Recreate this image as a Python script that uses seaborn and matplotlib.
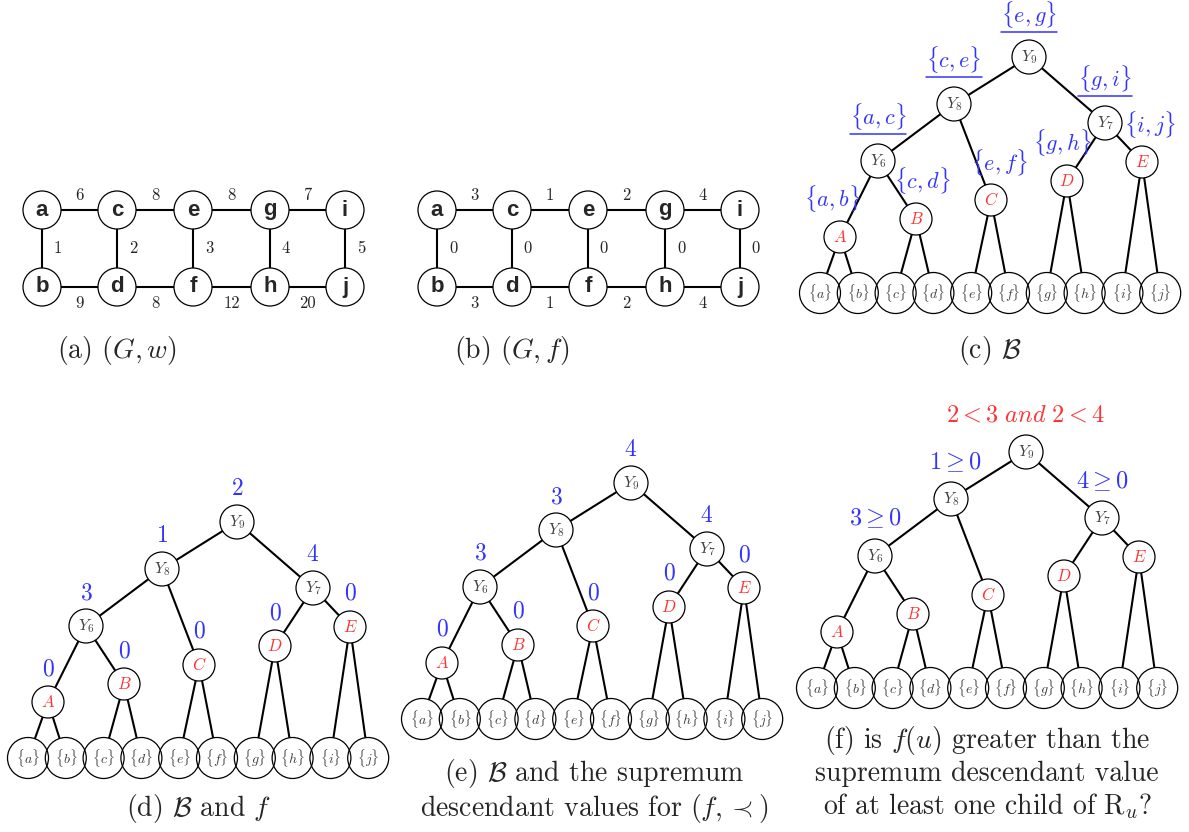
import numpy as np
import matplotlib
matplotlib.use("Agg")
import matplotlib.pyplot as plt
from matplotlib.patches import Circle
import seaborn as sns

# ---------------- data ----------------
graph_top = ["a", "c", "e", "g", "i"]
graph_bottom = ["b", "d", "f", "h", "j"]
w_top = [6, 8, 8, 7]
w_vertical = [1, 2, 3, 4, 5]
w_bottom = [9, 8, 12, 20]
f_top = [3, 1, 2, 4]
f_vertical = [0, 0, 0, 0, 0]
f_bottom = [3, 1, 2, 4]

internal_nodes = ["Y9", "Y8", "Y7", "Y6"]
internal_labels = [r"$Y_9$", r"$Y_8$", r"$Y_7$", r"$Y_6$"]
red_nodes = ["A", "B", "C", "D", "E"]
leaves = ["a", "b", "c", "d", "e", "f", "g", "h", "i", "j"]
tree_edges = [("Y9", "Y8"), ("Y9", "Y7"), ("Y8", "Y6"), ("Y8", "C"),
              ("Y6", "A"), ("Y6", "B"), ("Y7", "D"), ("Y7", "E"),
              ("A", "a"), ("A", "b"), ("B", "c"), ("B", "d"), ("C", "e"),
              ("C", "f"), ("D", "g"), ("D", "h"), ("E", "i"), ("E", "j")]

edge_sets_c = {"Y9": r"$\{e, g\}$", "Y8": r"$\{c, e\}$", "Y7": r"$\{g, i\}$",
               "Y6": r"$\{a, c\}$", "A": r"$\{a, b\}$", "B": r"$\{c, d\}$",
               "C": r"$\{e, f\}$", "D": r"$\{g, h\}$", "E": r"$\{i, j\}$"}
underlined_c = ["Y9", "Y8", "Y7", "Y6"]
f_values_d = {"Y9": 2, "Y8": 1, "Y7": 4, "Y6": 3,
              "A": 0, "B": 0, "C": 0, "D": 0, "E": 0}
sup_values_e = {"Y9": 4, "Y8": 3, "Y7": 4, "Y6": 3,
                "A": 0, "B": 0, "C": 0, "D": 0, "E": 0}
tests_f = {"Y9": r"$2 < 3\ and\ 2 < 4$", "Y8": r"$1 \geq 0$",
           "Y7": r"$4 \geq 0$", "Y6": r"$3 \geq 0$"}
tests_f_red = ["Y9"]

captions_single = [r"(a) $(G, w)$", r"(b) $(G, f)$", r"(c) $\mathcal{B}$",
                   r"(d) $\mathcal{B}$ and $f$"]
caption_e = [r"(e) $\mathcal{B}$ and the supremum",
             r"descendant values for $(f, \prec)$"]
caption_f = [r"(f) is $f(u)$ greater than the",
             r"supremum descendant value",
             r"of at least one child of $\mathrm{R}_u$?"]

# ---------------- style ----------------
sns.set_theme(style="white")
plt.rcParams["mathtext.fontset"] = "cm"
plt.rcParams["font.family"] = ["DejaVu Sans"]
BLUE = "#3333ff"
RED = "#ff3333"
GRAY = "#404040"
LW_EDGE = 1.5
LW_CIRC = 0.9

fig = plt.figure(figsize=(11.89, 8.32), dpi=100)
ax = fig.add_axes([0, 0, 1, 1])
ax.set_xlim(0, 1189)
ax.set_ylim(832, 0)
ax.axis("off")


def seg(p1, r1, p2, r2):
    p1 = np.array(p1, float)
    p2 = np.array(p2, float)
    d = p2 - p1
    u = d / np.linalg.norm(d)
    a = p1 + u * r1
    b = p2 - u * r2
    ax.plot([a[0], b[0]], [a[1], b[1]], color="black", lw=LW_EDGE,
            solid_capstyle="butt", zorder=1)


def circ(p, r):
    ax.add_patch(Circle(p, r, facecolor="none", edgecolor="black",
                        lw=LW_CIRC, zorder=2))


# ---------------- graphs (a), (b) ----------------
GX = [42, 117, 193, 270, 345]
GY_TOP, GY_BOT = 210, 287
GR = 19


def draw_graph(x0, top_vals, vert_vals, bot_vals):
    xs = [x + x0 for x in GX]
    for i in range(5):
        circ((xs[i], GY_TOP), GR)
        circ((xs[i], GY_BOT), GR)
        ax.text(xs[i], GY_TOP, graph_top[i], ha="center", va="center",
                fontsize=16, fontweight="bold", fontfamily="Liberation Sans")
        ax.text(xs[i], GY_BOT, graph_bottom[i], ha="center", va="center",
                fontsize=16, fontweight="bold", fontfamily="Liberation Sans")
        seg((xs[i], GY_TOP), GR, (xs[i], GY_BOT), GR)
        ax.text(xs[i] + 16, (GY_TOP + GY_BOT) / 2, str(vert_vals[i]),
                ha="center", va="center", fontsize=12, fontfamily="cmr10")
    for i in range(4):
        seg((xs[i], GY_TOP), GR, (xs[i + 1], GY_TOP), GR)
        seg((xs[i], GY_BOT), GR, (xs[i + 1], GY_BOT), GR)
        mx = (xs[i] + xs[i + 1]) / 2
        ax.text(mx, GY_TOP - 15, str(top_vals[i]), ha="center", va="center",
                fontsize=12, fontfamily="cmr10")
        ax.text(mx, GY_BOT + 16, str(bot_vals[i]), ha="center", va="center",
                fontsize=12, fontfamily="cmr10")


draw_graph(0, w_top, w_vertical, w_bottom)
draw_graph(395, f_top, f_vertical, f_bottom)

# ---------------- trees ----------------
REL = {"Y9": (0, 0), "Y8": (-75, 47), "Y7": (76, 66), "Y6": (-151, 104),
       "A": (-189, 180), "B": (-113, 162), "C": (-38, 143), "D": (38, 124),
       "E": (113, 105)}
for k, name in enumerate(leaves):
    REL[name] = (-209 + 37.8 * k, 236)
RAD = {n: 17 for n in internal_nodes}
RAD.update({n: 16 for n in red_nodes})
RAD.update({n: 20.5 for n in leaves})


def draw_tree(x0, y0):
    pos = {n: (x0 + dx, y0 + dy) for n, (dx, dy) in REL.items()}
    for p, c in tree_edges:
        seg(pos[p], RAD[p], pos[c], RAD[c])
    for n, lab in zip(internal_nodes, internal_labels):
        circ(pos[n], RAD[n])
        ax.text(pos[n][0], pos[n][1], lab, ha="center", va="center",
                fontsize=11.5, color=GRAY)
    for n in red_nodes:
        circ(pos[n], RAD[n])
        ax.text(pos[n][0], pos[n][1], "$" + n + "$", ha="center",
                va="center", fontsize=12, color=RED)
    for n in leaves:
        circ(pos[n], RAD[n])
        ax.text(pos[n][0], pos[n][1], r"$\{" + n + r"\}$", ha="center",
                va="center", fontsize=10, color=GRAY)
    return pos


# (c)
pos_c = draw_tree(1029, 57)
OFF_C = {"Y9": (0, -42), "Y8": (0, -44), "Y7": (0, -44), "Y6": (0, -44),
         "A": (-8, -38), "B": (6, -39), "C": (8, -38), "D": (-5, -38),
         "E": (8, -38)}
under_texts = []
for n, lab in edge_sets_c.items():
    t = ax.text(pos_c[n][0] + OFF_C[n][0], pos_c[n][1] + OFF_C[n][1], lab,
                ha="center", va="center", fontsize=16, color=BLUE)
    if n in underlined_c:
        under_texts.append(t)

# (d)
pos_d = draw_tree(237, 522)
for n, v in f_values_d.items():
    ax.text(pos_d[n][0], pos_d[n][1] - 34, f"${v}$", ha="center",
            va="center", fontsize=17, color=BLUE)

# (e)
pos_e = draw_tree(631, 483)
for n, v in sup_values_e.items():
    ax.text(pos_e[n][0], pos_e[n][1] - 34, f"${v}$", ha="center",
            va="center", fontsize=17, color=BLUE)

# (f)
pos_f = draw_tree(1026, 452)
OFF_F = {"Y9": (0, -37), "Y8": (4, -37), "Y7": (0, -37), "Y6": (0, -38)}
for n, lab in tests_f.items():
    ax.text(pos_f[n][0] + OFF_F[n][0], pos_f[n][1] + OFF_F[n][1], lab,
            ha="center", va="center", fontsize=17.5,
            color=RED if n in tests_f_red else BLUE)

# ---------------- captions ----------------
CAP_FS = 20
cap_xy = [(117, 358), (512, 358), (990, 358), (199, 816)]
for txt, (x, y) in zip(captions_single, cap_xy):
    ax.text(x, y, txt, ha="center", va="baseline", fontsize=CAP_FS,
            fontfamily="cmr10")
for txt, y in zip(caption_e, [781, 816]):
    ax.text(594, y, txt, ha="center", va="baseline", fontsize=CAP_FS,
            fontfamily="cmr10")
for txt, y in zip(caption_f, [748, 781, 814]):
    ax.text(987, y, txt, ha="center", va="baseline", fontsize=CAP_FS,
            fontfamily="cmr10")

# underlines in (c)
fig.canvas.draw()
renderer = fig.canvas.get_renderer()
inv = ax.transData.inverted()
for t in under_texts:
    bb = t.get_window_extent(renderer)
    (xa, ya), (xb, yb) = inv.transform([(bb.x0, bb.y0), (bb.x1, bb.y1)])
    ybot = max(ya, yb) + 1.5
    ax.plot([xa, xb], [ybot, ybot], color=BLUE, lw=1.1, zorder=3)

fig.savefig("out.png", dpi=100)
